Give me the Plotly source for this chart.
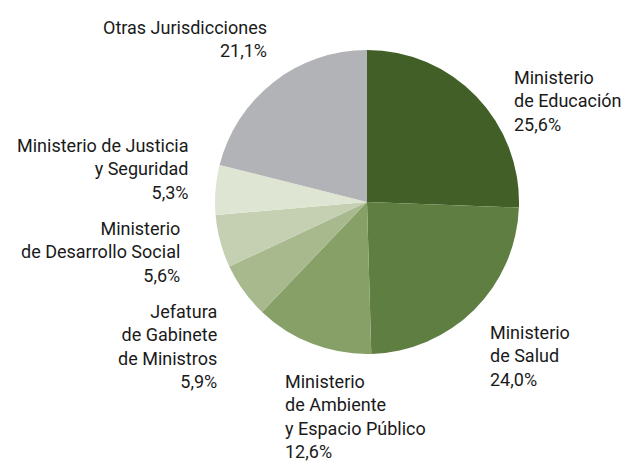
import plotly.graph_objects as go

labels = ["Ministerio de Educación", "Ministerio de Salud", "Ministerio de Ambiente y Espacio Público",
          "Jefatura de Gabinete de Ministros", "Ministerio de Desarrollo Social",
          "Ministerio de Justicia y Seguridad", "Otras Jurisdicciones"]
values = [25.6, 24.0, 12.6, 5.9, 5.6, 5.3, 21.1]
colors = ["#415f26", "#5f7f42", "#87a068", "#a8b98e", "#c5d0b2", "#dfe5d3", "#b2b3b7"]
label_texts = ["Ministerio<br>de Educación", "Ministerio<br>de Salud",
               "Ministerio<br>de Ambiente<br>y Espacio Público",
               "Jefatura<br>de Gabinete<br>de Ministros", "Ministerio<br>de Desarrollo Social",
               "Ministerio de Justicia<br>y Seguridad", "Otras Jurisdicciones"]
pct_texts = ["25,6%", "24,0%", "12,6%", "5,9%", "5,6%", "5,3%", "21,1%"]

OFF = 8  # page body margin
W, H = 630 - OFF, 462 - OFF
cx, cy, r = 367 - OFF, 202 - OFF, 152

fig = go.Figure(go.Pie(
    labels=labels, values=values, sort=False, direction="clockwise", rotation=0,
    marker=dict(colors=colors, line=dict(width=0)),
    textinfo="none", hoverinfo="label+percent", showlegend=False,
    domain=dict(x=[(cx - r) / W, (cx + r) / W], y=[1 - (cy + r) / H, 1 - (cy - r) / H]),
))

# label anchor positions (reference pixels): x, center y, alignment
pos = [(512, 101, "left"), (488, 356, "left"), (283, 416, "left"),
       (219, 346, "right"), (182, 252, "right"), (191, 169, "right"), (269, 39, "right")]

for (x, y, al), t, p in zip(pos, label_texts, pct_texts):
    fig.add_annotation(
        x=(x - OFF) / W, y=1 - (y - OFF) / H, xref="paper", yref="paper",
        text=t + "<br>" + p, showarrow=False, align=al,
        xanchor=al, yanchor="middle",
        font=dict(family="Roboto", size=18, color="#1a1a1a"),
    )

fig.update_layout(width=W, height=H, margin=dict(l=0, r=0, t=0, b=0),
                  paper_bgcolor="white", plot_bgcolor="white")
fig.write_html("out.html")
